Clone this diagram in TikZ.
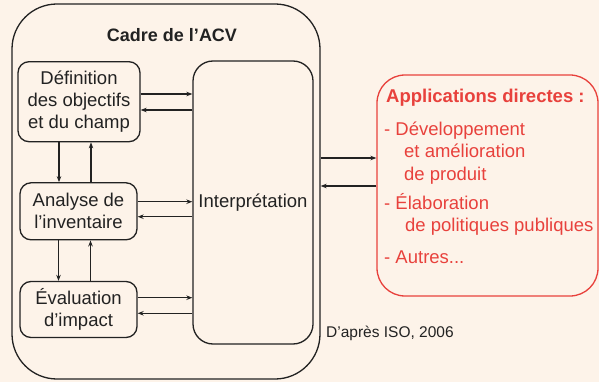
\documentclass[tikz,border=0pt]{standalone}
\usepackage{fontspec}
\setmainfont{Liberation Sans}
\usetikzlibrary{arrows.meta}
\definecolor{paper}{HTML}{FDF3E9}
\definecolor{ink}{HTML}{222222}
\definecolor{accent}{HTML}{E8413C}
\tikzset{
  box/.style={draw=ink, line width=1.3pt, rounded corners=#1, inner sep=0pt,
    align=center, text=ink, font=\fontsize{18.5}{22}\selectfont},
  box/.default=11pt,
  flow/.style={draw=ink, line width=1.1pt, -{Stealth[length=6pt,width=4.5pt]}},
  applbl/.style={anchor=base west, text=accent, inner sep=0pt,
    font=\fontsize{18.5}{22}\selectfont},
}
\begin{document}
\begin{tikzpicture}[x=1pt, y=-1pt]
  \fill[paper] (0,0) rectangle (599,382);
  \useasboundingbox (0,0) rectangle (599,382);

  % LCA framework
  \node[box=45pt, minimum width=308pt, minimum height=375pt] (frame) at (166,191.5) {};
  \node[text=ink, font=\bfseries\fontsize{18}{22}\selectfont] (frametitle) at (172,35) {Cadre de l’ACV};

  \node[box, minimum width=122pt, minimum height=80pt] (def) at (79,101.7)
    {Définition\\des objectifs\\et du champ};
  \node[box, minimum width=117pt, minimum height=57pt] (inv) at (78.5,211.3)
    {Analyse de\\l’inventaire};
  \node[box, minimum width=117pt, minimum height=56pt] (imp) at (78.5,309.5)
    {Évaluation\\d’impact};
  \node[box=20pt, minimum width=120pt, minimum height=283pt] (interp) at (253,202.5)
    {Interprétation};

  % links between phases
  \draw[flow] ([xshift=-20pt]def.south) -- ([xshift=-20pt]def.south |- inv.north);
  \draw[flow] ([xshift=12pt]def.south |- inv.north) -- ([xshift=12pt]def.south);
  \draw[flow] ([xshift=-20pt]inv.south) -- ([xshift=-20pt]inv.south |- imp.north);
  \draw[flow] ([xshift=12pt]inv.south |- imp.north) -- ([xshift=12pt]inv.south);

  % links with interpretation
  \draw[flow] ([yshift=7.7pt]def.east) -- ([yshift=7.7pt]def.east -| interp.west);
  \draw[flow] ([yshift=-8.3pt]def.east -| interp.west) -- ([yshift=-8.3pt]def.east);
  \draw[flow] ([yshift=9.6pt]inv.east) -- ([yshift=9.6pt]inv.east -| interp.west);
  \draw[flow] ([yshift=-5.4pt]inv.east -| interp.west) -- ([yshift=-5.4pt]inv.east);
  \draw[flow] ([yshift=11.8pt]imp.east) -- ([yshift=11.8pt]imp.east -| interp.west);
  \draw[flow] ([yshift=-3.8pt]imp.east -| interp.west) -- ([yshift=-3.8pt]imp.east);

  % direct applications
  \node[box=28pt, draw=accent, minimum width=221pt, minimum height=221pt] (apps) at (487.5,185.5) {};
  \node[applbl, font=\bfseries\fontsize{18.5}{22}\selectfont] (apptitle) at (386,103) {Applications directes :};
  \node[applbl] (app1a) at (384,136) {- Développement};
  \node[applbl] (app1b) at (404,158) {et amélioration};
  \node[applbl] (app1c) at (404,180) {de produit};
  \node[applbl] (app2a) at (384,209) {- Élaboration};
  \node[applbl] (app2b) at (405,231) {de politiques publiques};
  \node[applbl] (app3) at (384,263) {- Autres...};

  \draw[flow] ([yshift=33.5pt]frame.east) -- ([yshift=33.5pt]frame.east -| apps.west);
  \draw[flow] ([yshift=5.5pt]frame.east -| apps.west) -- ([yshift=5.5pt]frame.east);

  \node[anchor=base west, inner sep=0pt, text=ink, font=\fontsize{15.5}{18}\selectfont] (source) at (326,337) {D’après ISO, 2006};
\end{tikzpicture}
\end{document}
